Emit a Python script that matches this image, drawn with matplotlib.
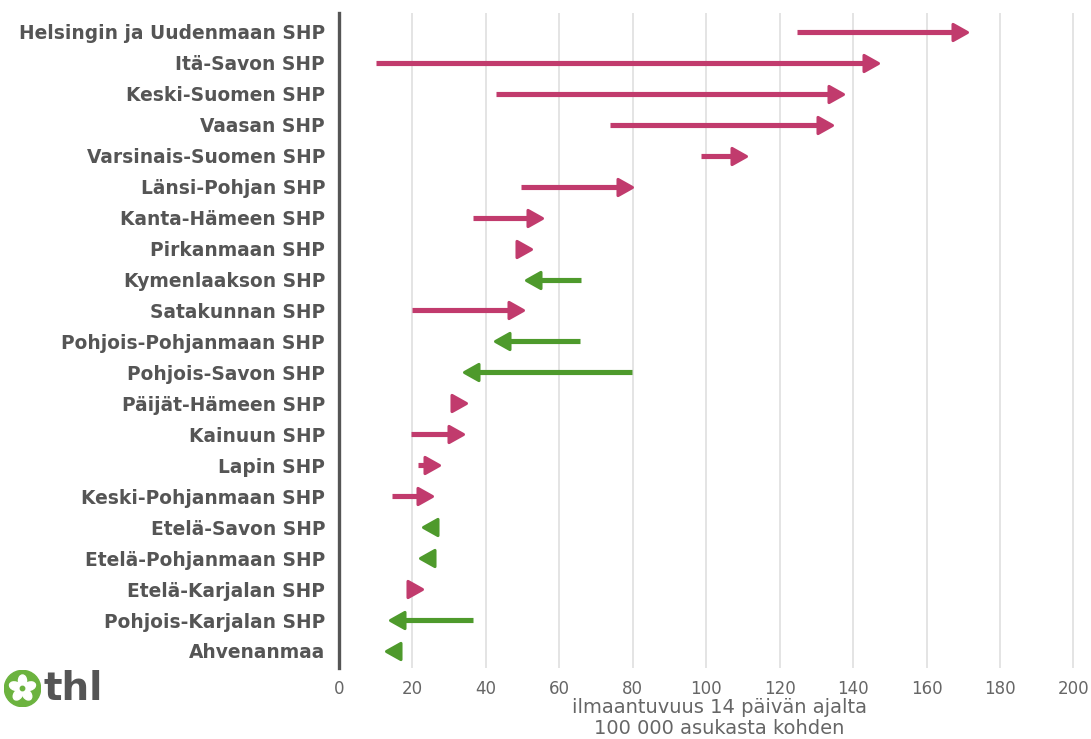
import math

import matplotlib
matplotlib.use("Agg")
import matplotlib.pyplot as plt
from matplotlib.markers import MarkerStyle
from matplotlib.patches import Circle, Ellipse
from matplotlib.path import Path

regions = [
    "Helsingin ja Uudenmaan SHP", "Itä-Savon SHP", "Keski-Suomen SHP",
    "Vaasan SHP", "Varsinais-Suomen SHP", "Länsi-Pohjan SHP",
    "Kanta-Hämeen SHP", "Pirkanmaan SHP", "Kymenlaakson SHP",
    "Satakunnan SHP", "Pohjois-Pohjanmaan SHP", "Pohjois-Savon SHP",
    "Päijät-Hämeen SHP", "Kainuun SHP", "Lapin SHP",
    "Keski-Pohjanmaan SHP", "Etelä-Savon SHP", "Etelä-Pohjanmaan SHP",
    "Etelä-Karjalan SHP", "Pohjois-Karjalan SHP", "Ahvenanmaa",
]
# incidence per 100 000, previous period -> latest period
start = [124.7, 10.0, 42.7, 73.7, 98.7, 49.7, 36.4, 50.0, 66.0, 20.0, 65.6,
         79.9, 32.0, 19.5, 21.4, 14.3, 26.5, 26.0, 19.5, 36.6, 16.0]
end = [171.0, 146.8, 137.2, 134.2, 110.8, 79.9, 55.4, 52.4, 50.9, 50.0, 42.6,
       34.1, 34.7, 33.8, 27.1, 25.2, 22.8, 22.0, 22.7, 13.9, 12.7]
xticks = [0, 20, 40, 60, 80, 100, 120, 140, 160, 180, 200]

UP = "#c13b6d"
DOWN = "#4e9a2c"
HEAD_PX = 16  # arrow head length in pixels

# arrow head markers with the tip at the data point
codes = [Path.MOVETO, Path.LINETO, Path.LINETO, Path.CLOSEPOLY]
head_right = MarkerStyle(Path([(0, 0), (-1, 0.56), (-1, -0.56), (0, 0)], codes),
                         joinstyle="round")
head_left = MarkerStyle(Path([(0, 0), (1, 0.56), (1, -0.56), (0, 0)], codes),
                        joinstyle="round")

fig = plt.figure(figsize=(10.91, 7.39), dpi=100)
ax = fig.add_axes([339 / 1091, 1 - 668 / 739, (201 * 3.672) / 1091, (668 - 13) / 739])
ax.set_xlim(0, 201)
ax.set_ylim(20.55, -0.61)

# pixels -> data units along x
px_per_unit = ax.transData.transform((1, 0))[0] - ax.transData.transform((0, 0))[0]
head_len = HEAD_PX / px_per_unit

for i, (s, e) in enumerate(zip(start, end)):
    up = e >= s
    col = UP if up else DOWN
    sign = 1 if up else -1
    shaft_end = e - sign * head_len * 0.5
    if (shaft_end - s) * sign > 0:
        ax.plot([s, shaft_end], [i, i], color=col, lw=3.7,
                solid_capstyle="butt", zorder=3)
    ax.plot(e, i, marker=head_right if up else head_left,
            markersize=2 * (HEAD_PX - 1.5) * 0.72, color=col, mew=2.2,
            markeredgecolor=col, zorder=4, linestyle="none")

ax.set_yticks(range(len(regions)))
ax.set_yticklabels(regions, fontsize=13.4, fontweight="bold", color="#555555")
ax.set_xticks(xticks)
ax.tick_params(axis="x", length=0, pad=9, labelsize=12, labelcolor="#666666")
ax.tick_params(axis="y", length=0, pad=10)
ax.grid(axis="x", color="#e2e2e2", lw=1.3, zorder=0)
ax.set_axisbelow(True)
for side in ["top", "right", "bottom"]:
    ax.spines[side].set_visible(False)
ax.spines["left"].set_color("#555555")
ax.spines["left"].set_linewidth(2.4)
ax.spines["left"].set_zorder(5)
ax.set_xlabel("ilmaantuvuus 14 päivän ajalta\n100 000 asukasta kohden",
              fontsize=14, color="#666666", linespacing=1.15)
ax.xaxis.set_label_coords((719 - 339) / (201 * 3.672), -(718 - 668) / (668 - 13))
ax.xaxis.label.set_va("center")

# thl logo
lax = fig.add_axes([4 / 1091, 1 - 707 / 739, 37 / 1091, 37 / 739])
lax.set_xlim(-1, 1)
lax.set_ylim(-1, 1)
lax.set_aspect("equal")
lax.axis("off")
lax.add_patch(Circle((0, 0), 0.98, color="#6cb33f"))
for k in range(5):
    ang = 90 + k * 72
    cx = 0.42 * math.cos(math.radians(ang))
    cy = 0.42 * math.sin(math.radians(ang))
    lax.add_patch(Ellipse((cx, cy), 0.62, 0.44, angle=ang, color="white"))
lax.add_patch(Circle((0, 0), 0.12, color="#6cb33f"))
fig.text(44 / 1091, 1 - 689 / 739, "thl", fontsize=28, fontweight="bold",
         color="#555555", va="center", ha="left")

fig.savefig("out.png", dpi=100)
